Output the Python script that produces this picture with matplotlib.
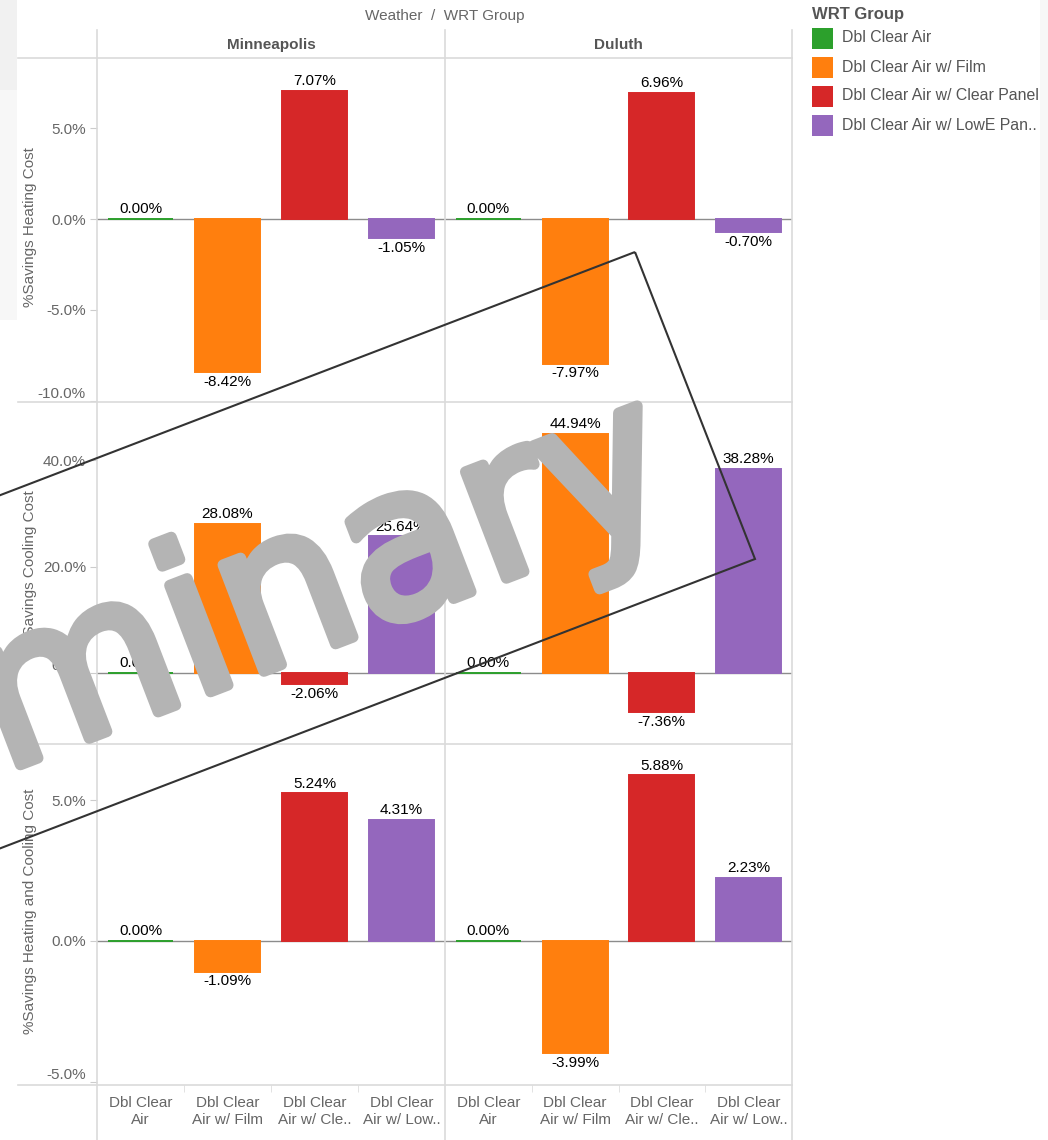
import matplotlib
matplotlib.use('Agg')
import matplotlib.pyplot as plt
from matplotlib.lines import Line2D
from matplotlib.patches import Rectangle, Polygon
from matplotlib.transforms import Affine2D
import matplotlib.patheffects as pe

plt.rcParams['font.family'] = ['Liberation Sans', 'DejaVu Sans']

# data
cities = ['Minneapolis', 'Duluth']
groups = ['Dbl Clear Air', 'Dbl Clear Air w/ Film',
          'Dbl Clear Air w/ Clear Panel', 'Dbl Clear Air w/ LowE Pan..']
group_ticks = ['Dbl Clear\nAir', 'Dbl Clear\nAir w/ Film',
               'Dbl Clear\nAir w/ Cle..', 'Dbl Clear\nAir w/ Low..']
group_colors = ['#2ca02c', '#ff7f0e', '#d62728', '#9467bd']
measures = ['%Savings Heating Cost', '%Savings Cooling Cost',
            '%Savings Heating and Cooling Cost']

heating_mpls = [0.00, -8.42, 7.07, -1.05]
heating_duluth = [0.00, -7.97, 6.96, -0.70]
cooling_mpls = [0.00, 28.08, -2.06, 25.64]
cooling_duluth = [0.00, 44.94, -7.36, 38.28]
total_mpls = [0.00, -1.09, 5.24, 4.31]
total_duluth = [0.00, -3.99, 5.88, 2.23]

values = [[heating_mpls, heating_duluth],
          [cooling_mpls, cooling_duluth],
          [total_mpls, total_duluth]]

y_ticks = [[-10, -5, 0, 5], [0, 20, 40], [-5, 0, 5]]
y_limits = [(-10.08, 8.87), (-13.33, 50.9), (-5.11, 6.99)]

# layout (pixels)
W, H = 1048, 1140
col_x = [97, 445, 792]
row_y = [58, 402, 744, 1085]
line_col = '#dadada'
txt_col = '#666666'

fig = plt.figure(figsize=(W / 100, H / 100), dpi=100)
px = Affine2D().scale(1 / W, -1 / H).translate(0, 1) + fig.transFigure

# faint background strips
fig.add_artist(Rectangle((0, 0), 17, 320, transform=px, color='#f7f7f7', lw=0, zorder=0))
fig.add_artist(Rectangle((0, 0), 17, 90, transform=px, color='#f1f1f1', lw=0, zorder=0))
fig.add_artist(Rectangle((1040, 0), 8, 320, transform=px, color='#f7f7f7', lw=0, zorder=0))

for r in range(3):
    for c in range(2):
        x0, x1 = col_x[c], col_x[c + 1]
        y0, y1 = row_y[r], row_y[r + 1]
        ax = fig.add_axes([x0 / W, 1 - y1 / H, (x1 - x0) / W, (y1 - y0) / H])
        ax.patch.set_alpha(0)
        vals = values[r][c]
        ax.bar(range(4), vals, width=0.75, color=group_colors,
               edgecolor=group_colors, linewidth=1.4, zorder=3)
        ax.axhline(0, color='#8c8c8c', lw=1, zorder=2)
        for i, v in enumerate(vals):
            ax.annotate(f'{v:.2f}%', (i, v), xytext=(0, 2 if v >= 0 else -2),
                        textcoords='offset points', ha='center',
                        va='bottom' if v >= 0 else 'top', fontsize=11,
                        color='black', zorder=5)
        ax.set_xlim(-0.5, 3.5)
        ax.set_ylim(*y_limits[r])
        for s in ax.spines.values():
            s.set_visible(False)
        ax.set_yticks(y_ticks[r])
        if c == 0:
            ax.set_yticklabels([f'{t:.1f}%' for t in y_ticks[r]])
            ax.tick_params(axis='y', length=5, color='#cccccc', labelsize=11,
                           labelcolor=txt_col, pad=3)
            # keep the lowest label inside the pane, as the original does
            lo = ax.get_yticklabels()[0]
            lo.set_va('bottom')
        else:
            ax.tick_params(axis='y', length=0, labelleft=False)
        if r == 2:
            ax.set_xticks(range(4))
            ax.set_xticklabels(group_ticks, fontsize=11, color=txt_col,
                               linespacing=1.25)
            ax.set_xticks([0.5, 1.5, 2.5], minor=True)
            ax.tick_params(axis='x', which='major', length=0, pad=8)
            ax.tick_params(axis='x', which='minor', length=5, color='#dddddd')
        else:
            ax.set_xticks([])

# panel frame lines
for y in row_y:
    fig.add_artist(Line2D([18, 792], [y, y], transform=px, color=line_col, lw=1.2))
for x in col_x:
    fig.add_artist(Line2D([x, x], [30, H], transform=px, color=line_col, lw=1.2))

# headers
fig.text(445, 16, 'Weather  /  WRT Group', transform=px, ha='center', va='center',
         fontsize=11, color=txt_col)
for c, city in enumerate(cities):
    fig.text((col_x[c] + col_x[c + 1]) / 2, 45, city, transform=px, ha='center',
             va='center', fontsize=11, fontweight='bold', color='#555555')
for r, m in enumerate(measures):
    fig.text(30, (row_y[r] + row_y[r + 1]) / 2 - 3, m, transform=px, ha='center',
             va='center', rotation=90, fontsize=11, color=txt_col)

# legend
fig.text(812, 14, 'WRT Group', transform=px, ha='left', va='center',
         fontsize=12, fontweight='bold', color='#555555')
for i, (g, col) in enumerate(zip(groups, group_colors)):
    yc = 38 + 29 * i
    fig.add_artist(Rectangle((812, yc - 10.5), 21, 21, transform=px, color=col, lw=0))
    fig.text(842, yc, g, transform=px, ha='left', va='center', fontsize=11.4,
             color='#555555')

# watermark
fig.add_artist(Polygon([(635, 252), (755, 559), (-552, 1060), (-673, 753)],
                       closed=True, fill=False, edgecolor='#333333', lw=1.5,
                       transform=px, zorder=10))
fig.text(684, 510, 'Preliminary', transform=px, ha='right', va='baseline',
         rotation=21, rotation_mode='anchor', fontsize=150, color='#b4b4b4',
         family='DejaVu Sans', zorder=9,
         path_effects=[pe.withStroke(linewidth=8, foreground='#b4b4b4',
                                     capstyle='round', joinstyle='round')])

fig.savefig('out.png', dpi=100)
